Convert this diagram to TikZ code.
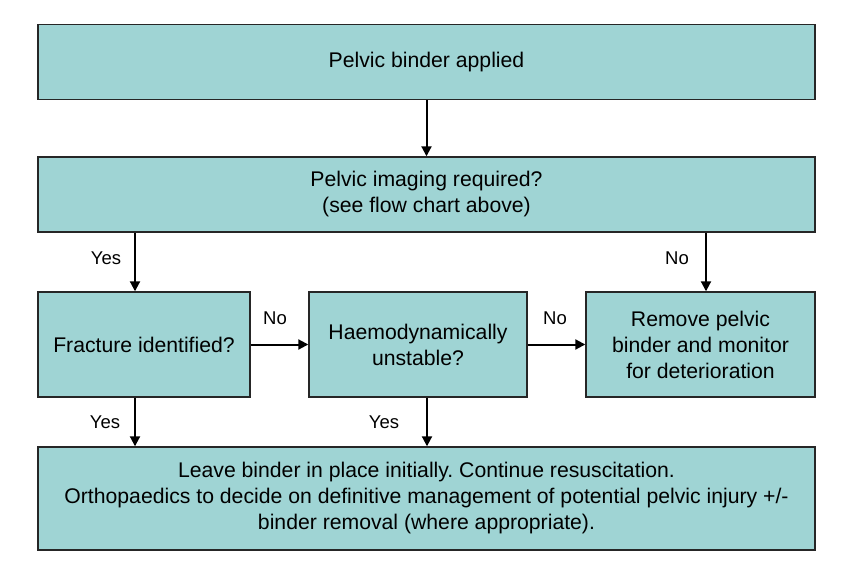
\documentclass[tikz,border=0pt]{standalone}
\usepackage{fontspec}
\setmainfont{Liberation Sans}
\usetikzlibrary{arrows.meta}
\frenchspacing

\definecolor{boxfill}{RGB}{159,212,212}

\begin{document}
\begin{tikzpicture}[x=1pt, y=-1pt,
    every node/.style={font=\fontsize{21.2}{26}\selectfont},
    stepbox/.style={draw=black!85, line width=1.4pt, fill=boxfill, align=center, inner sep=0pt},
    arr/.style={line width=2pt, -{Triangle[length=10pt,width=10pt]}},
    lbl/.style={font=\fontsize{18.5}{22}\selectfont}]
      % frame of the page
      \useasboundingbox (0,0) rectangle (850,585);

      % boxes, in reading order
      \node[stepbox, minimum width=777pt, minimum height=75pt] (binder) at (426.5,62) {Pelvic binder applied};
      \node[stepbox, minimum width=777pt, minimum height=75pt] (imaging) at (426.5,194.5) {Pelvic imaging required?\\(see flow chart above)};
      \node[stepbox, minimum width=212pt, minimum height=105pt] (fracture) at (144,344.5) {Fracture identified?};
      \node[stepbox, minimum width=218pt, minimum height=105pt] (haemo) at (418,344.5) {Haemodynamically\\unstable?};
      \node[stepbox, minimum width=229pt, minimum height=105pt] (remove) at (700.5,344.5) {Remove pelvic\\binder and monitor\\for deterioration};
      \node[stepbox, minimum width=777pt, minimum height=103pt] (leave) at (426.5,498.5) {Leave binder in place initially. Continue resuscitation.\\Orthopaedics to decide on definitive management of potential pelvic injury +/-\\binder removal (where appropriate).};

      \coordinate (leftx) at (135,0);
      \coordinate (midx) at (427,0);
      \coordinate (rightx) at (706,0);

      \draw[arr] (binder) -- (imaging);
      \draw[arr] (imaging.south -| leftx) -- (fracture.north -| leftx);
      \draw[arr] (imaging.south -| rightx) -- (remove.north -| rightx);
      \draw[arr] (fracture) -- (haemo);
      \draw[arr] (haemo) -- (remove);
      \draw[arr] (fracture.south -| leftx) -- (leave.north -| leftx);
      \draw[arr] (haemo.south -| midx) -- (leave.north -| midx);

      \node[lbl] (yes1) at (106,258) {Yes};
      \node[lbl] (no1) at (677,258) {No};
      \node[lbl] (no2) at (275,318) {No};
      \node[lbl] (no3) at (555,318) {No};
      \node[lbl] (yes2) at (105,422) {Yes};
      \node[lbl] (yes3) at (384,422) {Yes};
\end{tikzpicture}
\end{document}
